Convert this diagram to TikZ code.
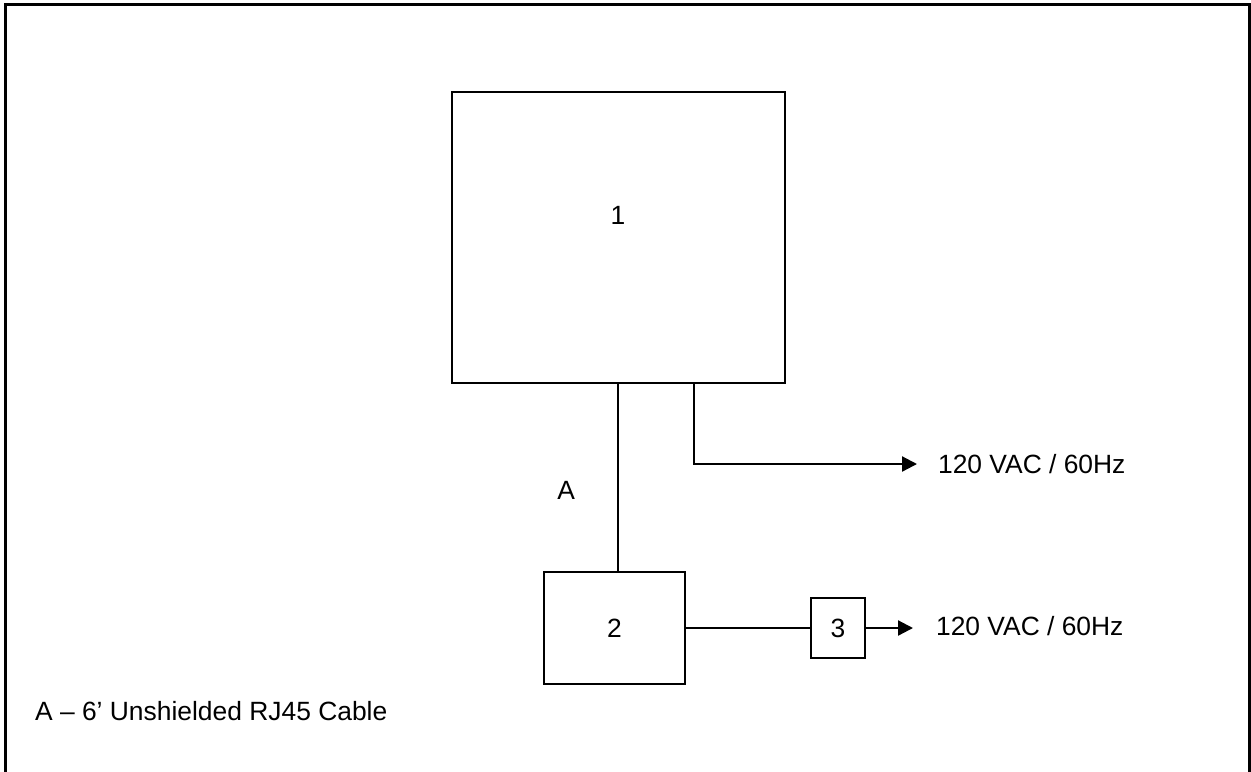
\documentclass[tikz,border=0pt]{standalone}
\usepackage{fontspec}
\setmainfont{Liberation Sans}
\usetikzlibrary{arrows.meta,positioning}

\begin{document}
\begin{tikzpicture}[x=0.5pt,y=-0.5pt,font=\fontsize{13.2}{16}\selectfont,line width=1.1pt,
    unitbox/.style={draw,inner sep=0pt},
    feed/.style={-{Triangle[length=7.5pt,width=7.5pt]}}]
        \useasboundingbox (0,0) rectangle (1251,771);
        % page frame
        \draw[line width=1.5pt] (5,790) -- (5,4) -- (1249,4) -- (1249,790);
        \node[unitbox,minimum width=166.5pt,minimum height=145.5pt] (unit1) at (618.5,237.5) {};
        \node at (618,215) {1};
        \node[unitbox,minimum width=70.5pt,minimum height=56pt] (unit2) at (614.5,628) {2};
        \node[unitbox,minimum width=27pt,minimum height=30pt] (unit3) at (838,628) {3};
        \node[anchor=west,inner sep=0pt] (mains1) at (937,464) {120 VAC / 60Hz};
        \node[anchor=west,inner sep=0pt] (mains2) at (935,626) {120 VAC / 60Hz};
        \coordinate (drop) at (694,383);
        \coordinate (tip1) at (917,464);
        \coordinate (tip3) at (913,628);
        \draw (unit1.south -| 618,0) -- (unit2.north -| 618,0) node[pos=0.57,left=21pt,inner sep=0pt] (cableA) {A};
        \draw[feed] (drop) |- (tip1);
        \draw (unit2.east) -- (unit3.west);
        \draw[feed] (unit3.east) -- (tip3);
        \node[anchor=west,inner sep=0pt] (legend) at (34,711) {A – 6’ Unshielded RJ45 Cable};
      \end{tikzpicture}
\end{document}
